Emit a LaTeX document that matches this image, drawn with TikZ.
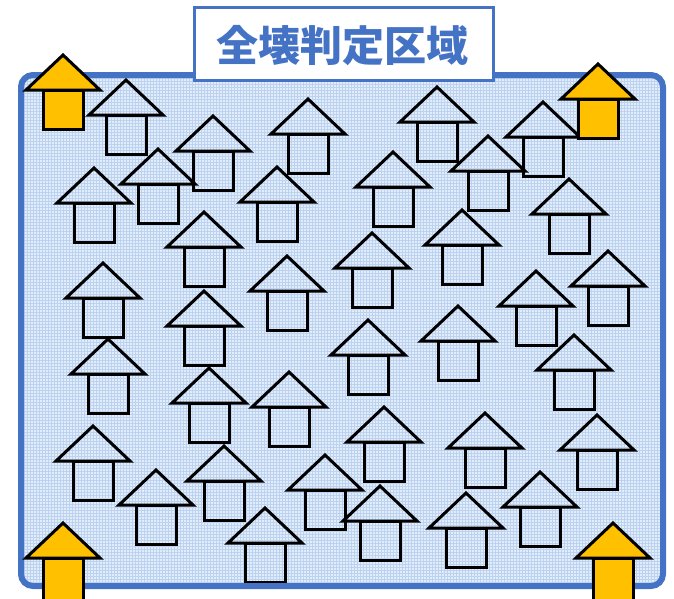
\documentclass[tikz,border=0pt]{standalone}
\usepackage{fontspec}
\newfontfamily\cjk{Noto Sans CJK JP}
\definecolor{frameblue}{RGB}{68,114,196}
\definecolor{bgblue}{RGB}{226,237,250}
\definecolor{gridblue}{RGB}{188,210,240}
\definecolor{arrowyellow}{RGB}{255,192,0}
\tikzset{
  houseline/.style={draw=black,line width=3pt,line join=miter},
  house/.pic={
    \draw[houseline] (-37,35) -- (0,0) -- (37,35) -- cycle;
    \draw[houseline] (-20,35) rectangle (20,74);
  },
  yhouse/.pic={
    \filldraw[houseline,fill=arrowyellow] (-20,35) rectangle (20,74);
    \filldraw[houseline,fill=arrowyellow] (-37,35) -- (0,0) -- (37,35) -- cycle;
  },
  yhouselong/.pic={
    \filldraw[houseline,fill=arrowyellow] (-20,35) rectangle (20,90);
    \filldraw[houseline,fill=arrowyellow] (-37,35) -- (0,0) -- (37,35) -- cycle;
  },
  framebox/.style={draw=frameblue,line width=6pt,rounded corners=12pt},
  titlebox/.style={draw=frameblue,line width=3pt,fill=white},
  titletext/.style={text=frameblue,font=\cjk\bfseries\fontsize{42}{46}\selectfont}
}
\begin{document}
\begin{tikzpicture}[x=1pt,y=-1pt]
\useasboundingbox (0,0) rectangle (674,598);
\clip (0,0) rectangle (674,598);
% background area
\begin{scope}
  \clip[rounded corners=12pt] (21,75) rectangle (663,586);
  \fill[bgblue] (21,75) rectangle (663,586);
  \draw[gridblue,line width=0.7pt,step=3pt] (21,75) grid (663,586);
\end{scope}
% houses
\foreach \hx/\hy in {126/80,213/116,308/99,437/87,543/102,
  94/168,158/149,277/167,393/152,488/136,569/179,
  204/212,462/210,372/233,287/256,103/263,608/251,536/271,
  204/291,458/306,368/320,108/339,574/335,
  209/368,289/372,384/407,485/413,597/415,93/426,
  224/446,325/455,156/470,540/472,380/486,466/493,265/508}
  \pic at (\hx,\hy) {house};
% frame
\draw[framebox] (21,75) rectangle (663,586);
% yellow arrows
\pic at (63,55) {yhouse};
\pic at (598,64) {yhouse};
\pic at (63,523) {yhouselong};
\pic at (613,523) {yhouselong};
% title
\node[titlebox,minimum width=299pt,minimum height=73pt,inner sep=0pt] (title) at (344,44) {};
\node[titletext,inner sep=0pt] (titlelabel) at (342,46) {全壊判定区域};
\end{tikzpicture}
\end{document}
